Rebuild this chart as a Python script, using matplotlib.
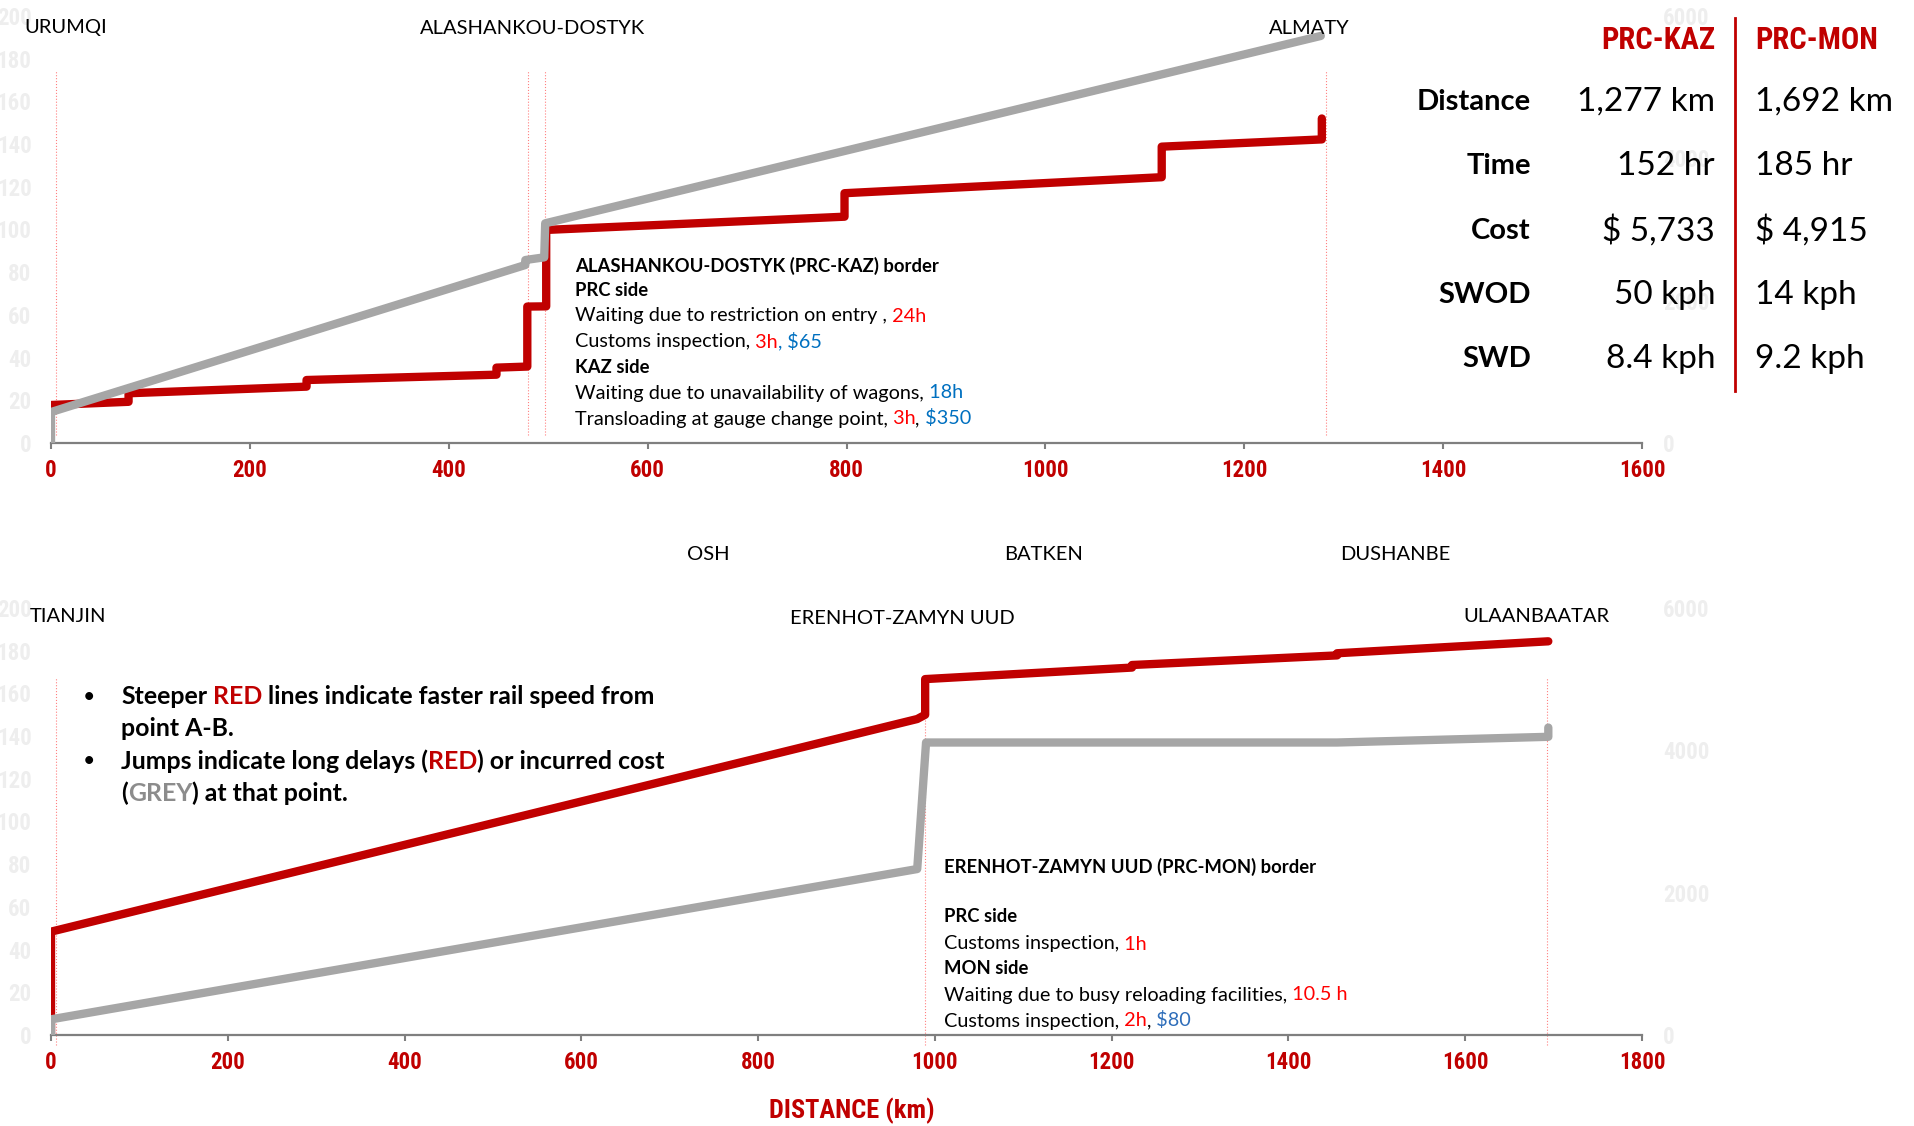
import matplotlib.pyplot as plt

W, H = 1914, 1126

# PRC-KAZ corridor (Urumqi - Alashankou/Dostyk - Almaty)
kaz_time_km = [0, 78, 78, 257, 257, 448, 448, 479, 479, 498, 498, 798, 798, 1117, 1117, 1278, 1278]
kaz_time_hr = [17.8, 19.3, 23.3, 26.4, 29.5, 32, 35.3, 35.8, 63.9, 64, 99.8, 106, 117, 124.5, 138.8, 142.2, 152]
kaz_cost_km = [0, 0, 477, 477, 496, 497, 1277]
kaz_cost_usd = [0, 435, 2501, 2571, 2609, 3087, 5720]
kaz_marks = [5, 480, 497, 1282]

# PRC-MON corridor (Tianjin - Erenhot/Zamyn Uud - Ulaanbaatar)
mon_time_km = [0, 0, 980, 989, 989, 1223, 1223, 1455, 1455, 1694]
mon_time_hr = [0, 48.4, 148, 150, 166.7, 172.1, 173.3, 177.8, 178.8, 184.4]
mon_cost_km = [0, 0, 980, 990, 1455, 1694, 1694]
mon_cost_usd = [0, 220, 2332, 4110, 4110, 4190, 4320]
mon_marks = [6, 989, 1692]

hr_ticks = list(range(0, 201, 20))
usd_ticks = [0, 2000, 4000, 6000]
kaz_km_ticks = list(range(0, 1601, 200))
mon_km_ticks = list(range(0, 1801, 200))

table_rows = ["Distance", "Time", "Cost", "SWOD", "SWD"]
table_cols = ["PRC-KAZ", "PRC-MON"]
kaz_vals = ["1,277 km", "152 hr", "$ 5,733", "50 kph", "8.4 kph"]
mon_vals = ["1,692 km", "185 hr", "$ 4,915", "14 kph", "9.2 kph"]

RED = '#C00000'
GREY = '#A6A6A6'
HRED = '#FF0000'
BLUE = '#0070C0'
narrow = ['Roboto Condensed', 'DejaVu Sans']
cond = dict(fontfamily=narrow, fontstretch='condensed', fontweight='bold')
body = ['Lato', 'DejaVu Sans']

fig = plt.figure(figsize=(W / 100, H / 100), dpi=100)


def fx(x):
    return x / W


def fy(y):
    return 1 - y / H


def make_axes(zero_px, km_ticks):
    ax = fig.add_axes([fx(51), fy(zero_px), 1591 / W, 427 / H])
    ax.set_xlim(0, km_ticks[-1])
    ax.set_ylim(0, 200)
    ax2 = ax.twinx()
    ax2.set_ylim(0, 6000)
    for a in (ax, ax2):
        for s in ['top', 'left', 'right', 'bottom']:
            a.spines[s].set_visible(False)
        a.patch.set_visible(False)
    ax.spines['bottom'].set_visible(True)
    ax.spines['bottom'].set_color('#7F7F7F')
    ax.spines['bottom'].set_linewidth(1.6)
    ax.set_xticks(km_ticks, labels=[str(t) for t in km_ticks], fontsize=16.5, color=RED, **cond)
    ax.tick_params(axis='x', length=4.3, width=1.5, color='#7F7F7F', pad=7.5)
    ax.set_yticks(hr_ticks, labels=[str(t) for t in hr_ticks], fontsize=16.5, color='#EEEEEE', **cond)
    ax.tick_params(axis='y', length=0, pad=14)
    ax2.set_yticks(usd_ticks, labels=[str(t) for t in usd_ticks], fontsize=16.5, color='#EEEEEE', **cond)
    ax2.tick_params(axis='y', length=0, pad=15)
    return ax, ax2


# top chart
ax, ax2 = make_axes(443, kaz_km_ticks)
ax.vlines(kaz_marks, 3.7, 174.5, colors='#FF8080', linewidth=0.8, linestyles=':')
ax.plot(kaz_time_km, kaz_time_hr, color=RED, lw=6, solid_joinstyle='round', solid_capstyle='round')
ax2.plot(kaz_cost_km, kaz_cost_usd, color=GREY, lw=6, solid_joinstyle='round', solid_capstyle='round')

# bottom chart
bx, bx2 = make_axes(1035, mon_km_ticks)
bx.vlines(mon_marks, -4.5, 167.4, colors='#FF8080', linewidth=0.8, linestyles=':', clip_on=False)
bx.plot(mon_time_km, mon_time_hr, color=RED, lw=6, solid_joinstyle='round', solid_capstyle='round')
bx2.plot(mon_cost_km, mon_cost_usd, color=GREY, lw=6, solid_joinstyle='round', solid_capstyle='round')

# overlay for free text
ov = fig.add_axes([0, 0, 1, 1])
ov.set_xlim(0, W)
ov.set_ylim(H, 0)
ov.axis('off')


def rich(x, y, parts, size=14.3, family=body):
    t = None
    for s, c, w in parts:
        fs = size if w == 'normal' or size > 15 else 13.3
        if t is None:
            t = ov.text(x, y, s, color=c, fontweight=w, fontsize=fs, fontfamily=family,
                        ha='left', va='center')
        else:
            t = ov.annotate(s, xy=(1, 0), xycoords=t, color=c, fontweight=w, fontsize=fs,
                            fontfamily=family, ha='left', va='bottom')
    return t


# city labels
city = dict(fontsize=14.5, fontfamily=body, color='black', va='center')
ov.text(24, 28, 'URUMQI', ha='left', **city)
ov.text(533, 29, 'ALASHANKOU-DOSTYK', ha='center', **city)
ov.text(1309, 28, 'ALMATY', ha='center', **city)
ov.text(708, 555, 'OSH', ha='center', **city)
ov.text(1044, 554, 'BATKEN', ha='center', **city)
ov.text(1395, 555, 'DUSHANBE', ha='center', **city)
ov.text(30, 616, 'TIANJIN', ha='left', **city)
ov.text(902, 619, 'ERENHOT-ZAMYN UUD', ha='center', **city)
ov.text(1536, 616, 'ULAANBAATAR', ha='center', **city)

# border notes, PRC-KAZ
K = 'black'
rich(575, 266, [('ALASHANKOU-DOSTYK (PRC-KAZ) border', K, 'bold')])
rich(575, 290.5, [('PRC side', K, 'bold')])
rich(575, 316, [('Waiting due to restriction on entry ,', K, 'normal'), (' 24h', HRED, 'normal')])
rich(575, 342, [('Customs inspection,', K, 'normal'), (' 3h', HRED, 'normal'), (',', BLUE, 'normal'),
                (' $65', BLUE, 'normal')])
rich(575, 367.5, [('KAZ side', K, 'bold')])
rich(575, 393, [('Waiting due to unavailability of wagons,', K, 'normal'), (' 18h', BLUE, 'normal')])
rich(575, 419, [('Transloading at gauge change point,', K, 'normal'), (' 3h', HRED, 'normal'),
                (',', K, 'normal'), (' $350', BLUE, 'normal')])

# border notes, PRC-MON
rich(944, 867, [('ERENHOT-ZAMYN UUD (PRC-MON) border', K, 'bold')])
rich(944, 917, [('PRC side', K, 'bold')])
rich(944, 944, [('Customs inspection,', K, 'normal'), (' 1h', HRED, 'normal')])
rich(944, 969, [('MON side', K, 'bold')])
rich(944, 995, [('Waiting due to busy reloading facilities,', K, 'normal'), (' 10.5 h', HRED, 'normal')])
rich(944, 1021, [('Customs inspection,', K, 'normal'), (' 2h', HRED, 'normal'), (',', K, 'normal'),
                 (' $80', '#2F6EBA', 'normal')])

# legend bullets
ov.text(89, 697, '•', fontsize=13, fontweight='bold', ha='center', va='center', fontfamily=body)
ov.text(89, 761, '•', fontsize=13, fontweight='bold', ha='center', va='center', fontfamily=body)
rich(121, 697, [('Steeper', K, 'bold'), (' RED', RED, 'bold'),
                (' lines indicate faster rail speed from', K, 'bold')], size=17.9)
rich(121, 729, [('point A-B.', K, 'bold')], size=17.9)
rich(121, 761, [('Jumps indicate long delays (', K, 'bold'), ('RED', RED, 'bold'),
                (') or incurred cost', K, 'bold')], size=17.9)
rich(121, 793, [('(', K, 'bold'), ('GREY', '#8C8C8C', 'bold'), (') at that point.', K, 'bold')], size=17.9)

# summary table
ov.text(1715, 40, table_cols[0], ha='right', va='center', color=RED, fontsize=22, **cond)
ov.text(1755, 40, table_cols[1], ha='left', va='center', color=RED, fontsize=22, **cond)
row_y = [102, 166, 231, 295, 359]
for i in range(len(table_rows)):
    ov.text(1531, row_y[i], table_rows[i], ha='right', va='center', fontsize=21,
            fontweight='bold', fontfamily=body)
    ov.text(1715, row_y[i], kaz_vals[i], ha='right', va='center', fontsize=24, fontfamily=body)
    ov.text(1755, row_y[i], mon_vals[i], ha='left', va='center', fontsize=24, fontfamily=body)
ov.plot([1735, 1735], [18, 391], color=RED, lw=2)

fig.text(fx(852), fy(1111), 'DISTANCE (km)', ha='center', va='center', color=RED,
         fontsize=19, **cond)

fig.savefig('out.png', dpi=100)
